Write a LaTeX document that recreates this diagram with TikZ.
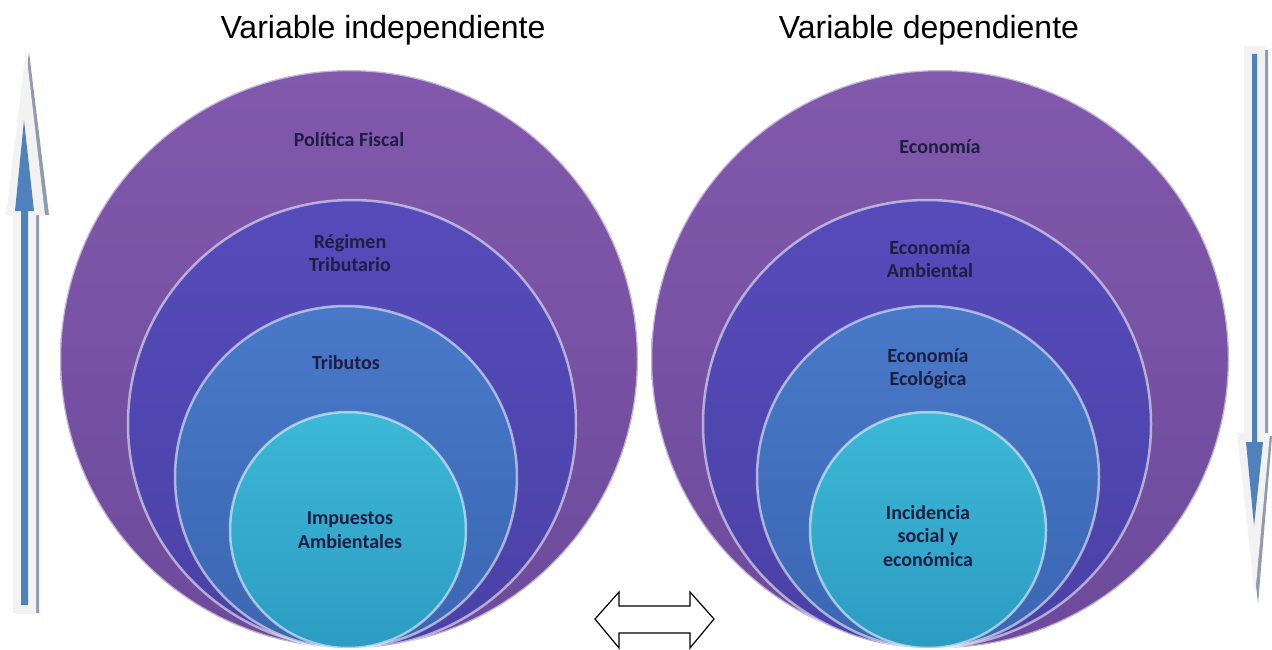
\documentclass[tikz,border=0pt]{standalone}
\usepackage{fontspec}
\setmainfont{Liberation Sans}
\newfontfamily\calibri{Carlito}

\definecolor{purpTop}{HTML}{8259AC}
\definecolor{purpBot}{HTML}{6C4A9B}
\definecolor{violTop}{HTML}{564BBA}
\definecolor{violBot}{HTML}{4A41A6}
\definecolor{bluTop}{HTML}{4879C8}
\definecolor{bluBot}{HTML}{3B66B2}
\definecolor{cyanTop}{HTML}{3DB8D6}
\definecolor{cyanBot}{HTML}{2C9CC2}
\definecolor{arrBlue}{HTML}{4F81BD}
\definecolor{arrPale}{HTML}{F2F2F2}
\definecolor{arrShade}{HTML}{8E9BB1}
\definecolor{ink}{HTML}{1E1D42}

\begin{document}
\begin{tikzpicture}[x=1pt,y=-1pt,line join=round,
  ring/.style={circle,inner sep=0pt,draw=white,draw opacity=0.55,line width=2.5pt},
  lbl/.style={font=\calibri\bfseries\fontsize{20}{23.5}\selectfont,text=ink,align=center},
  title/.style={font=\fontsize{32}{38}\selectfont}]
\useasboundingbox [fill=white] (0,0) rectangle (1272,650);

% titles
\node [title] (vi) at (383,30) {Variable independiente};
\node [title] (vd) at (929,30) {Variable dependiente};

% left stack
\node [ring,minimum size=578pt,top color=purpTop,bottom color=purpBot] (pf) at (349,359) {};
\node [ring,minimum size=448pt,top color=violTop,bottom color=violBot] (rt) at (352,424) {};
\node [ring,minimum size=342pt,top color=bluTop,bottom color=bluBot] (tr) at (346,477) {};
\node [ring,minimum size=236pt,top color=cyanTop,bottom color=cyanBot] (ia) at (348,530) {};

\node [lbl] at (349,140) {Política Fiscal};
\node [lbl] at (350,253) {Régimen\\Tributario};
\node [lbl] at (346,363) {Tributos};
\node [lbl] at (350,530) {Impuestos\\Ambientales};

% right stack
\node [ring,minimum size=578pt,top color=purpTop,bottom color=purpBot] (ec) at (940,359) {};
\node [ring,minimum size=448pt,top color=violTop,bottom color=violBot] (ea) at (927,424) {};
\node [ring,minimum size=342pt,top color=bluTop,bottom color=bluBot] (ee) at (928,477) {};
\node [ring,minimum size=236pt,top color=cyanTop,bottom color=cyanBot] (is) at (928,530) {};

\node [lbl] at (940,147) {Economía};
\node [lbl] at (930,259) {Economía\\Ambiental};
\node [lbl] at (928,369) {Economía\\Ecológica};
\node [lbl] at (928,536) {Incidencia\\social y\\económica};

% up arrow on the left
\fill [arrShade] (16,613) -- (16,215) -- (9,215) -- (29,52) -- (49,215) -- (39,215) -- (39,613) -- cycle;
\fill [arrPale] (13,613) -- (13,215) -- (6,215) -- (26,50) -- (45,215) -- (36,215) -- (36,613) -- cycle;
\fill [arrBlue] (21,605) -- (21,211) -- (15,211) -- (24,120) -- (34,211) -- (28,211) -- (28,605) -- cycle;

% down arrow on the right
\fill [arrShade] (1247,50) -- (1268,50) -- (1268,436) -- (1272,436) -- (1258,604) -- (1240,436) -- (1247,436) -- cycle;
\fill [arrPale] (1244,46) -- (1265,46) -- (1265,433) -- (1270,433) -- (1255,596) -- (1237,433) -- (1244,433) -- cycle;
\fill [arrBlue] (1252,54) -- (1257,54) -- (1257,442) -- (1263,442) -- (1254,526) -- (1246,442) -- (1252,442) -- cycle;

% two-way arrow between the stacks
\draw [fill=white,line width=1.2pt,line join=miter]
  (595,619) -- (619,592) -- (619,606) -- (690,606) -- (690,592) -- (714,619)
  -- (690,648) -- (690,633) -- (619,633) -- (619,648) -- cycle;

\end{tikzpicture}
\end{document}
